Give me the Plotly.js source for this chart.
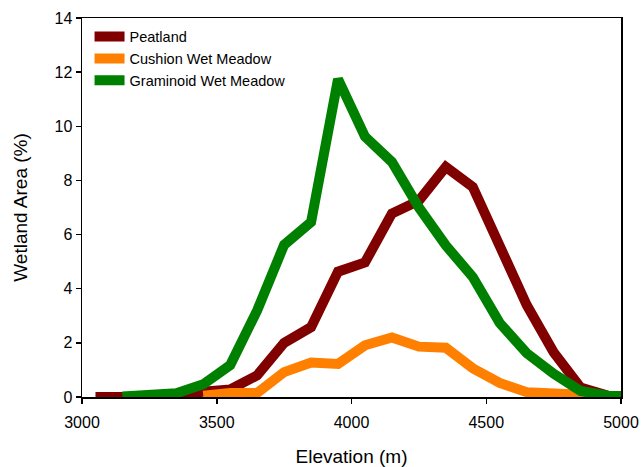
<!DOCTYPE html>
<html>
<head>
<meta charset="utf-8">
<script src="https://cdn.plot.ly/plotly-3.0.1.min.js"></script>
<style>html,body{margin:0;padding:0;background:#fff;}#chart{width:643px;height:467px;}</style>
</head>
<body>
<div id="chart"></div>
<script>
// Elevation bin centres (m)
const peatElev = [3050, 3150, 3250, 3350, 3450, 3550, 3650, 3750, 3850, 3950, 4050, 4150, 4250, 4350, 4450, 4550, 4650, 4750, 4850, 4950];
const peatVals = [0, 0, 0, 0, 0.2, 0.28, 0.8, 2.0, 2.58, 4.63, 4.97, 6.78, 7.25, 8.5, 7.76, 5.55, 3.4, 1.65, 0.35, 0.05];

const cushionElev = [3450, 3550, 3650, 3750, 3850, 3950, 4050, 4150, 4250, 4350, 4450, 4550, 4650, 4750, 4850, 4950, 5050];
const cushionVals = [0.05, 0.15, 0.15, 0.92, 1.27, 1.22, 1.91, 2.2, 1.86, 1.82, 1.06, 0.52, 0.18, 0.14, 0.03, 0.0, 0.0];

const graminoidElev = [3150, 3250, 3350, 3450, 3550, 3650, 3750, 3850, 3950, 4050, 4150, 4250, 4350, 4450, 4550, 4650, 4750, 4850, 4950, 5050];
const graminoidVals = [0.02, 0.05, 0.14, 0.47, 1.18, 3.2, 5.62, 6.46, 11.74, 9.62, 8.68, 7.0, 5.6, 4.43, 2.73, 1.62, 0.86, 0.22, 0.05, 0.03];

const seriesNames = ['Peatland', 'Cushion Wet Meadow', 'Graminoid Wet Meadow'];
const seriesColors = ['#800000', '#ff8000', '#008000'];

const xTicks = [3000, 3500, 4000, 4500, 5000];
const yTicks = [0, 2, 4, 6, 8, 10, 12, 14];

const font = 'Liberation Sans, Arial, sans-serif';

const traces = [
  {x: peatElev, y: peatVals, name: seriesNames[0]},
  {x: cushionElev, y: cushionVals, name: seriesNames[1]},
  {x: graminoidElev, y: graminoidVals, name: seriesNames[2]}
].map((t, i) => Object.assign(t, {
  type: 'scatter', mode: 'lines', cliponaxis: true,
  line: {color: seriesColors[i], width: 10, shape: 'linear'}
}));

const layout = {
  width: 643, height: 467,
  margin: {l: 82, r: 22, t: 18, b: 70},
  paper_bgcolor: '#fff', plot_bgcolor: '#fff',
  font: {family: font, color: '#000'},
  showlegend: true,
  legend: {
    x: 0.014, y: 0.993, xanchor: 'left', yanchor: 'top',
    bgcolor: 'rgba(0,0,0,0)', borderwidth: 0,
    font: {family: font, size: 14.5, color: '#000'},
    tracegroupgap: 0
  },
  xaxis: {
    range: [3000, 5000], tickvals: xTicks, ticktext: xTicks.map(String),
    ticks: 'outside', ticklen: 5, tickwidth: 1.5, tickcolor: '#000',
    ticklabelstandoff: 5,
    showline: true, linecolor: '#000', linewidth: 1.5, mirror: true,
    showgrid: false, zeroline: false,
    tickfont: {family: font, size: 16, color: '#000'},
    title: {text: 'Elevation (m)', font: {family: font, size: 19, color: '#000'}, standoff: 24}
  },
  yaxis: {
    range: [0, 14], tickvals: yTicks, ticktext: yTicks.map(String),
    ticks: 'outside', ticklen: 5, tickwidth: 1.5, tickcolor: '#000',
    showline: true, linecolor: '#000', linewidth: 1.5, mirror: true,
    showgrid: false, zeroline: false,
    tickfont: {family: font, size: 16, color: '#000'},
    title: {text: 'Wetland Area (%)', font: {family: font, size: 19, color: '#000'}, standoff: 22}
  }
};

Plotly.newPlot('chart', traces, layout, {displayModeBar: false, staticPlot: true});
</script>
</body>
</html>
